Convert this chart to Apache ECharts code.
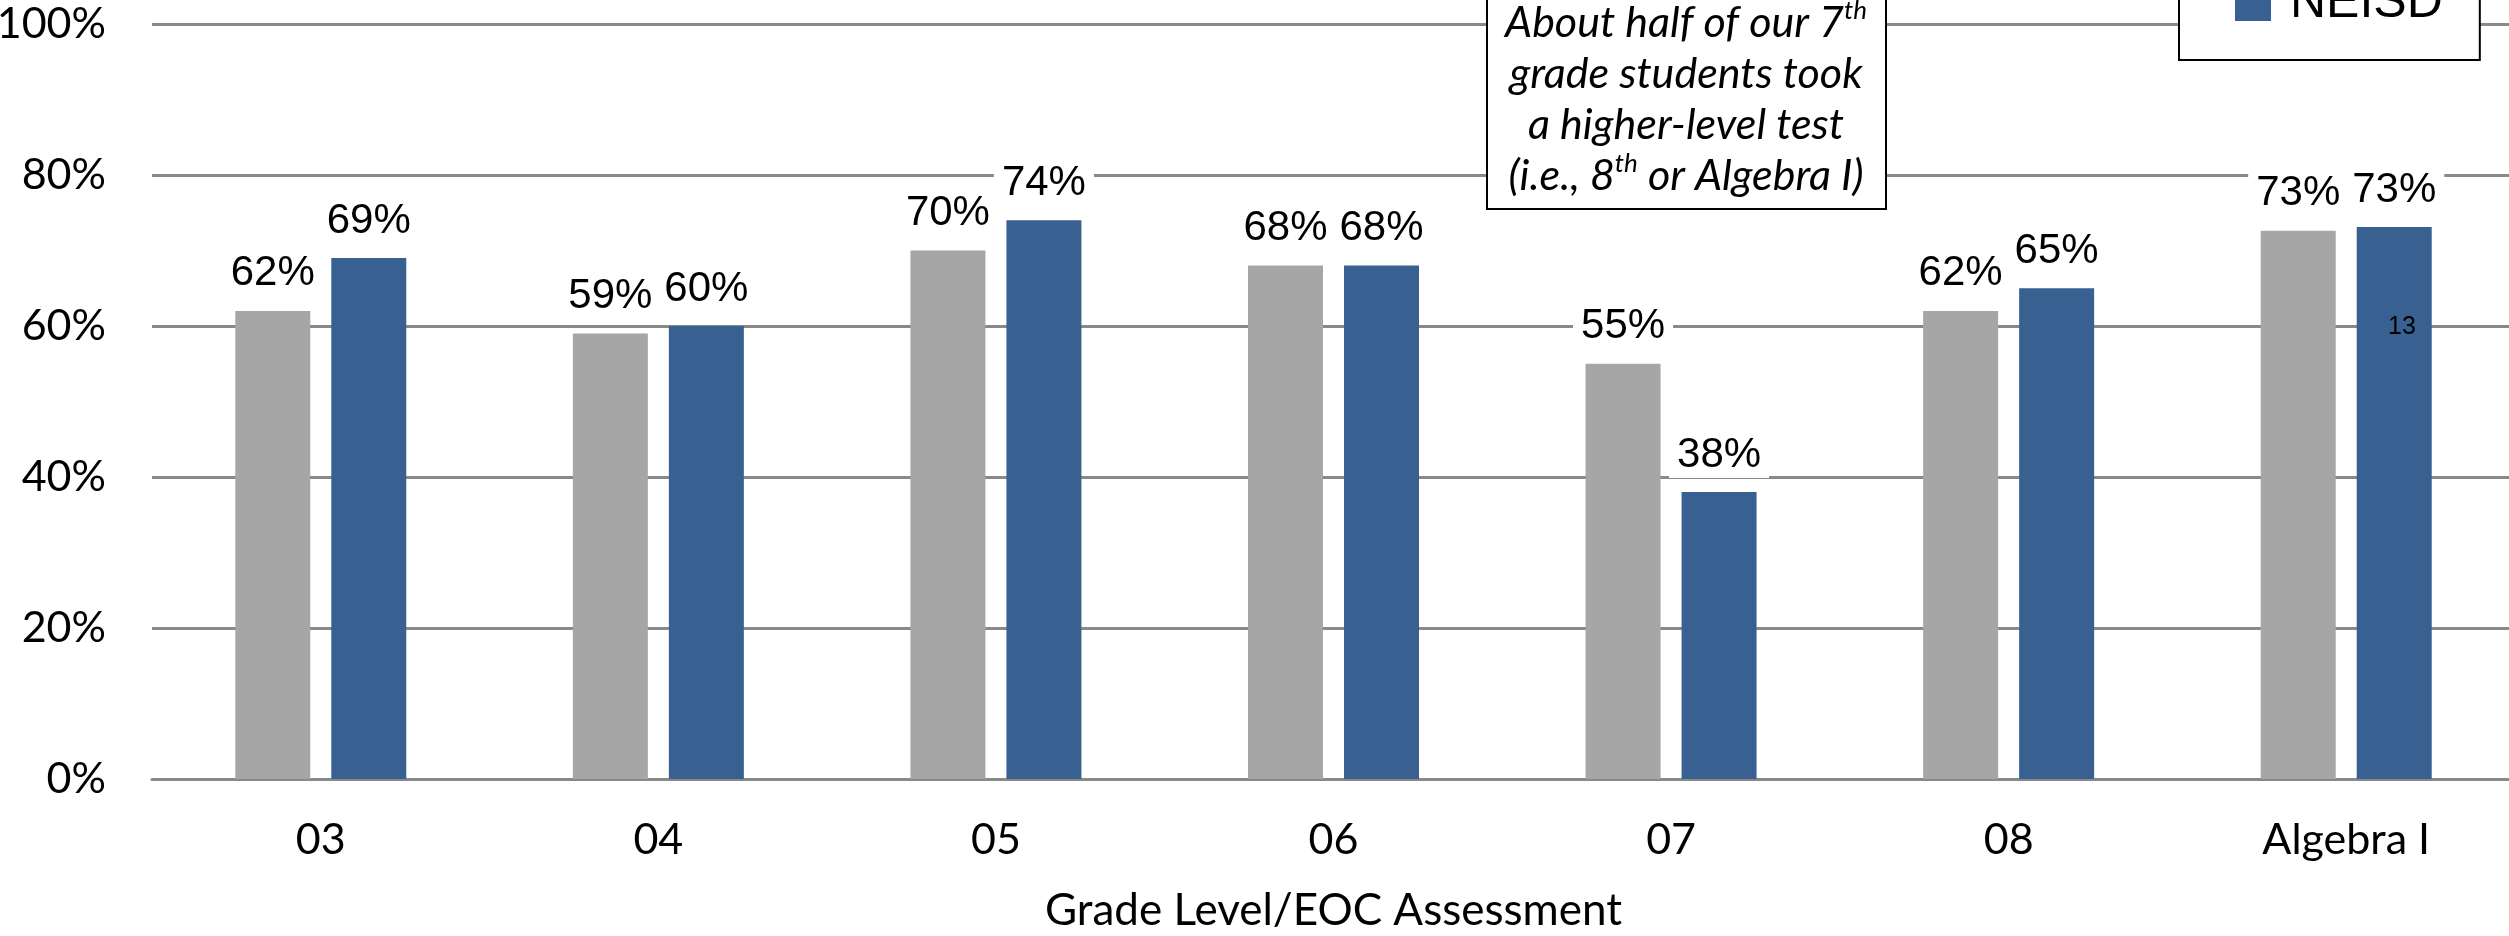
<!DOCTYPE html>
<html>
<head>
<meta charset="utf-8">
<script src="https://cdn.jsdelivr.net/npm/echarts@6/dist/echarts.min.js"></script>
<style>
html,body{margin:0;padding:0;background:#fff;}
#chart{width:2509px;height:936px;}
</style>
</head>
<body>
<div id="chart"></div>
<script>
const categories = ['03', '04', '05', '06', '07', '08', 'Algebra I'];
const seriesNames = ['State', 'NEISD'];
const stateValues = [62, 59, 70, 68, 55, 62, 72.6];
const neisdValues = [69, 60, 74, 68, 38, 65, 73.1];
const yTicks = [0, 20, 40, 60, 80, 100];
const noteLines = ['About half of our 7{sup|th}', 'grade students took', 'a higher-level test', '(i.e., 8{sup|th} or Algebra I)'];
const pageNumber = '13';

const chart = echarts.init(document.getElementById('chart'));
const labelStyle = {
  show: true,
  position: 'top',
  distance: 14,
  fontFamily: '"Liberation Sans", Arial, sans-serif',
  fontSize: 42,
  color: '#000',
  backgroundColor: '#fff',
  padding: [2, 8, 2, 8],
  formatter: p => Math.round(p.value) + '%'
};
chart.setOption({
  animation: false,
  backgroundColor: '#fff',
  grid: { left: 152, right: -6, top: 24, bottom: 157, containLabel: false, outerBoundsMode: 'none' },
  legend: {
    data: seriesNames,
    orient: 'vertical',
    left: 2179,
    top: -122,
    itemWidth: 36,
    itemHeight: 36,
    itemGap: 20,
    icon: 'rect',
    padding: [30, 37, 32, 56],
    borderColor: '#000',
    borderWidth: 2,
    backgroundColor: '#fff',
    textStyle: { fontFamily: '"Liberation Sans", Arial, sans-serif', fontSize: 50, lineHeight: 50, color: '#000', padding: [0, 0, 0, 14] }
  },
  xAxis: {
    type: 'category',
    data: categories,
    axisTick: { show: false },
    axisLine: { lineStyle: { color: '#898989', width: 3 } },
    axisLabel: { fontFamily: 'Lato, "Open Sans", sans-serif', fontSize: 43, color: '#000', margin: 40 },
    name: 'Grade Level/EOC Assessment',
    nameLocation: 'middle',
    nameGap: 110,
    nameTextStyle: { fontFamily: 'Lato, "Open Sans", sans-serif', fontSize: 44, color: '#000' }
  },
  yAxis: {
    type: 'value',
    min: yTicks[0],
    max: yTicks[yTicks.length - 1],
    interval: yTicks[1] - yTicks[0],
    axisLine: { show: false },
    axisTick: { show: false },
    splitLine: { lineStyle: { color: '#898989', width: 3 } },
    axisLabel: { fontFamily: 'Lato, "Open Sans", sans-serif', fontSize: 43, color: '#000', margin: 46, formatter: '{value}%' }
  },
  series: [
    { name: seriesNames[0], type: 'bar', data: stateValues, barWidth: 75, barGap: '28%',
      itemStyle: { color: '#A6A6A6' }, label: labelStyle },
    { name: seriesNames[1], type: 'bar', data: neisdValues, barWidth: 75, barGap: '28%',
      itemStyle: { color: '#386192' }, label: labelStyle }
  ],
  graphic: [
    { type: 'rect', z: 100, shape: { x: 1487, y: -40, width: 399, height: 249 },
      style: { fill: '#fff', stroke: '#000', lineWidth: 2 } },
    { type: 'text', z: 101, x: 1686, y: 100,
      style: {
        text: noteLines.join('\n'),
        align: 'center', verticalAlign: 'middle',
        fontFamily: 'Lato, "Open Sans", sans-serif', fontStyle: 'italic', fontSize: 43, lineHeight: 51, fill: '#000',
        rich: { sup: { fontSize: 26, verticalAlign: 'top', fontStyle: 'italic', fontFamily: 'Lato, "Open Sans", sans-serif', lineHeight: 51, padding: [0, 0, 14, 0] } }
      } },
    { type: 'text', z: 101, x: 2402, y: 327,
      style: { text: pageNumber, align: 'center', verticalAlign: 'middle', fontFamily: '"Liberation Sans", Arial, sans-serif', fontSize: 25, fill: '#000' } }
  ]
});
</script>
</body>
</html>
